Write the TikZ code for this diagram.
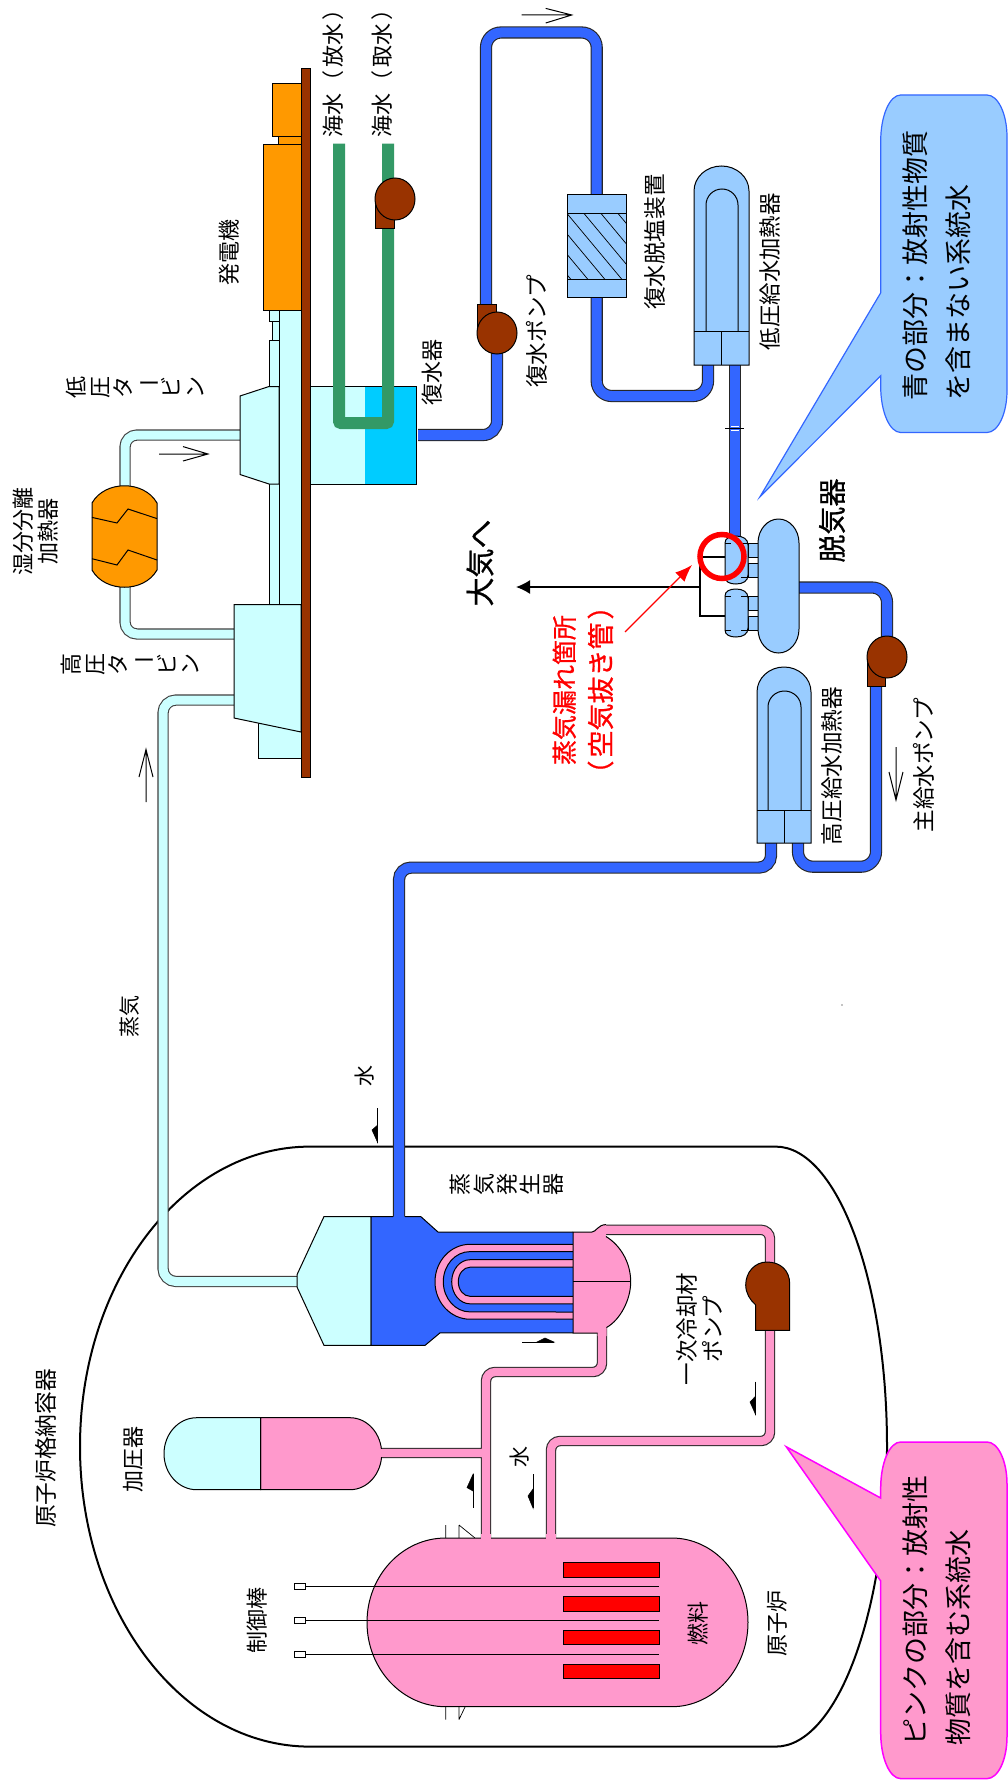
\documentclass[tikz,border=0pt]{standalone}
\usepackage{fontspec}
\usetikzlibrary{arrows.meta}
\setmainfont{Noto Sans CJK JP}
\newfontfamily\medfont[FakeBold=0.8]{Noto Sans CJK JP}
\definecolor{steamc}{HTML}{CCFFFF}
\definecolor{waterc}{HTML}{3366FF}
\definecolor{lightb}{HTML}{99CCFF}
\definecolor{pinkc}{HTML}{FF99CC}
\definecolor{brownc}{HTML}{993300}
\definecolor{orangec}{HTML}{FF9900}
\definecolor{seac}{HTML}{339966}
\definecolor{condc}{HTML}{00CCFF}
\definecolor{calloutm}{HTML}{FF00FF}
\tikzset{
  pipeb/.style={line width=1.1pt,draw=black!85,double=waterc,double distance=10pt},
  pipes/.style={line width=1.1pt,draw=black!75,double=steamc,double distance=9pt},
  pipep/.style={line width=1.1pt,draw=black!85,double=pinkc,double distance=8.2pt},
  part/.style={draw=black,line width=1pt},
  flow/.style={draw=black,line width=1pt},
  solidhead/.style={fill=black,draw=black,line width=0.5pt},
  lab/.style={rotate=90,inner sep=0pt,align=center,font=\fontsize{22}{25}\selectfont},
  big/.style={rotate=90,inner sep=0pt,align=center,font=\medfont\fontsize{29}{32}\selectfont},
  redlab/.style={rotate=90,inner sep=0pt,align=center,text=red,font=\medfont\fontsize{25}{30}\selectfont},
  stack/.style={rotate=90,inner sep=0pt,align=center,font=\fontsize{22}{23.3}\selectfont},
  note/.style={rotate=90,inner sep=0pt,align=left,font=\fontsize{27}{43}\selectfont},
}
\newcommand{\vbar}{\rotatebox[origin=c]{-90}{ー}}
\begin{document}
\begin{tikzpicture}[x=1pt,y=-1pt]
\useasboundingbox (0,0) rectangle (1008,1782);
\fill[white] (0,0) rectangle (1008,1782);
% containment
\draw[line width=2pt] (310,1146.6) arc[start angle=90,end angle=270,x radius=230pt,y radius=300pt] -- (775.7,1746.6) arc[start angle=-90,end angle=90,x radius=111.3pt,y radius=300pt] -- cycle;
% secondary pipes
\draw[pipes,rounded corners=13pt] (234,700) -- (163,700) -- (163,1281.5) -- (300,1281.5);
\draw[pipes,rounded corners=12pt] (240,435) -- (125,435) -- (125,490);
\draw[pipes,rounded corners=12pt] (125,584) -- (125,634) -- (234,634);
\draw[pipeb,rounded corners=14pt] (418,435) -- (497,435) -- (497,350);
\draw[pipeb,rounded corners=15pt] (486,306) -- (486,32.5) -- (596.7,32.5) -- (596.7,196);
\draw[pipeb,rounded corners=15pt] (596.7,295) -- (596.7,396) -- (708,396) -- (708,363);
\draw[pipeb] (735,363) -- (735,538);
\draw[pipeb,rounded corners=15pt] (797,587.5) -- (887,587.5) -- (887,640);
\draw[pipeb,rounded corners=15pt] (876,684) -- (876,866.7) -- (798,866.7) -- (798,841);
\draw[pipeb,rounded corners=12pt] (771,841) -- (771,867.6) -- (399,867.6) -- (399,1218);
\draw[line width=0.7pt] (725,428.6) -- (744,428.6);
\draw[white,line width=1pt] (731,426.4) -- (739,426.4) (731,430.8) -- (739,430.8);
% primary pipes
\draw[pipep,rounded corners=9pt] (486,1540) -- (486,1372) -- (602,1372) -- (602,1325) (380,1453) -- (486,1453);
\draw[pipep,rounded corners=9pt] (551,1540) -- (551,1441) -- (770,1441) -- (770,1328);
\draw[pipep,rounded corners=9pt] (770,1264) -- (770,1229.8) -- (604,1229.8);
% turbine line
\draw[part,fill=steamc] (269,310) rectangle (279,321.5);
\draw[part,fill=steamc] (272,321.5) rectangle (279,340.6);
\draw[part,fill=steamc] (269,340.6) rectangle (279,604.5);
\draw[part,fill=steamc] (258,700) rectangle (301,758.7);
\draw[part,fill=steamc] (279,310) rectangle (301,604.5);
\draw[part,fill=steamc] (240,396) -- (269,386.5) -- (279,386.5) -- (279,484) -- (269,484) -- (240,474.5) -- cycle;
\draw[part,fill=steamc] (234,604.5) -- (301,604.5) -- (301,732) -- (234,718) -- cycle;
\draw[part,fill=orangec] (272,83.4) rectangle (301,137);
\draw[part,fill=orangec] (278,137) rectangle (301,144.7);
\draw[part,fill=orangec] (263,144.7) rectangle (301,310);
\draw[part,fill=brownc] (301,69) rectangle (310,777);
% condenser
\fill[steamc] (310,386.5) rectangle (365,484);
\fill[condc] (365,386.5) rectangle (416,484);
\draw[part] (310,386.5) rectangle (416,484);
\draw[seac,line width=12pt,rounded corners=2pt] (339,143.5) -- (339,423) -- (388,423) -- (388,143.5);
% MSR
\draw[part,fill=orangec] (92,503) .. controls (105,480) and (144,480) .. (157,503) -- (157,570) .. controls (144,593) and (105,593) .. (92,570) -- cycle;
\draw[part] (92,517.4) -- (117,523) -- (128,509) -- (157,518.6);
\draw[part] (92,558.7) -- (117,565) -- (128,550) -- (157,560);
% pumps (circle plus foot)
\draw[part,fill=brownc] (375,199) rectangle (394,228);
\draw[part,fill=brownc] (395,199) ellipse[x radius=20pt,y radius=21pt];
\draw[part,fill=brownc] (477,304) rectangle (496,333);
\draw[part,fill=brownc] (497,333) ellipse[x radius=20pt,y radius=21pt];
\draw[part,fill=brownc] (867,657) rectangle (885,686);
\draw[part,fill=brownc] (887,657) ellipse[x radius=20pt,y radius=21pt];
% demineraliser
\draw[part,fill=lightb] (567,194) rectangle (626,297);
\begin{scope}
\clip (567,213.5) rectangle (626,279.5);
\foreach \k in {-68,-51,...,60} \draw[line width=0.7pt] (567+\k,213.5) -- (567+\k+60,213.5+72);
\end{scope}
\draw[part] (567,213.5) rectangle (626,279.5);
% LP heater
\draw[part,fill=lightb] (694,365) -- (694,191) arc[start angle=180,end angle=0,x radius=27.5pt,y radius=25pt] -- (749,365) -- cycle;
\draw[part] (706,331.4) -- (706,205) arc[start angle=180,end angle=0,x radius=16pt,y radius=16pt] -- (738,331.4);
\draw[part] (694,331.4) -- (749,331.4) (721,331.4) -- (721,365);
% HP heater
\draw[part,fill=lightb] (757,843) -- (757,692) arc[start angle=180,end angle=0,x radius=27pt,y radius=25pt] -- (811,843) -- cycle;
\draw[part] (768,810) -- (768,707) arc[start angle=180,end angle=0,x radius=16.5pt,y radius=16pt] -- (801,707) -- (801,810);
\draw[part] (757,810) -- (811,810) (784,810) -- (784,843);
% deaerator
\draw[line width=1.6pt] (725,557) -- (700,557) -- (700,616) -- (725,616);
\foreach \d in {0,53}{
\begin{scope}[shift={(0,\d)}]
\draw[part,fill=lightb] (748,543) rectangle (758,557);
\draw[part,fill=lightb] (748,563) rectangle (758,577);
\draw[part,fill=lightb] (725,543) .. controls (725,538) and (730,536) .. (736,536) .. controls (743,536) and (748,539) .. (748,545) -- (748,575) .. controls (748,581) and (743,584) .. (736,584) .. controls (730,584) and (725,582) .. (725,577) -- cycle;
\draw[part] (725,543) -- (731,543) (741,543) -- (748,543) (725,577) -- (731,577) (741,577) -- (748,577);
\end{scope}}
\draw[part,fill=lightb] (758,543) arc[start angle=180,end angle=0,x radius=20.5pt,y radius=24pt] -- (799,629) arc[start angle=0,end angle=-180,x radius=20.5pt,y radius=24pt] -- cycle;
\draw[line width=1.6pt,-{Latex[length=14pt,width=14pt]}] (700,587) -- (516,587);
\draw[red,line width=5.5pt] (722,556.5) circle (22pt);
\draw[red,line width=1.2pt,-{Latex[length=17pt,width=13pt]}] (625,632) -- (692,565);
% steam generator
\draw[part,fill=steamc] (297,1274.7) -- (324,1216.5) -- (371,1216.5) -- (371,1345.4) -- (324,1345.4) -- (297,1287) -- cycle;
\fill[waterc] (371,1216.5) -- (420.7,1216.5) -- (438,1232) -- (573,1232) -- (573,1332.9) -- (440,1332.9) -- (425,1345.4) -- (371,1345.4) -- cycle;
\draw[part] (393,1216.5) -- (371,1216.5) -- (371,1345.4) -- (425,1345.4) -- (440,1332.9) -- (573,1332.9) (405,1216.5) -- (420.7,1216.5) -- (438,1232) -- (573,1232);
\draw[part,fill=pinkc] (573,1244.3) -- (470,1244.3) arc[start angle=90,end angle=270,x radius=35pt,y radius=37.45pt] -- (573,1319.2);
\draw[part,fill=waterc] (573,1251.6) -- (470,1251.6) arc[start angle=90,end angle=270,x radius=26.7pt,y radius=30.15pt] -- (573,1312);
\draw[part,fill=pinkc] (573,1259.7) -- (470,1259.7) arc[start angle=90,end angle=270,x radius=18.3pt,y radius=22.05pt] -- (573,1303.8);
\draw[part,fill=waterc] (573,1267.2) -- (470,1267.2) arc[start angle=90,end angle=270,x radius=11.7pt,y radius=14.55pt] -- (573,1296.3);
% steam generator head: filled first, outlined without the pipe mouths
\fill[pinkc] (573,1232) -- (592,1232) .. controls (596,1232) and (598,1224.6) .. (606,1224.6) -- (606,1236.5) .. controls (620,1245) and (630.7,1262) .. (630.7,1281.8) .. controls (630.7,1300) and (620,1320) .. (606.5,1327.5) -- (606.5,1336) -- (597.5,1336) -- (597.5,1333) -- (573,1333) -- cycle;
\draw[part] (606,1236.5) .. controls (620,1245) and (630.7,1262) .. (630.7,1281.8) .. controls (630.7,1300) and (620,1320) .. (606.5,1327.5);
\draw[part] (606,1224.6) .. controls (598,1224.6) and (596,1232) .. (592,1232) -- (573,1232) -- (573,1333) -- (597.5,1333);
\draw[part] (573,1281.8) -- (630.7,1281.8);
% RCP
\draw[part,fill=brownc] (755.7,1330.4) -- (789.7,1330.4) -- (789.7,1284) .. controls (789.7,1270) and (780,1262) .. (767,1262) .. controls (755,1262) and (745.7,1272) .. (745.7,1285) .. controls (745.7,1293) and (750,1300) .. (755.7,1305) -- cycle;
% pressuriser
\draw[part,fill=pinkc] (260.7,1417.7) -- (350,1417.7) arc[start angle=90,end angle=-90,x radius=31.7pt,y radius=36pt] -- (260.7,1489.7) -- cycle;
\draw[part,fill=steamc] (260.7,1417.7) -- (196.7,1417.7) arc[start angle=90,end angle=270,x radius=32.7pt,y radius=36pt] -- (260.7,1489.7) -- cycle;
\fill[pinkc] (378,1449) rectangle (384,1457);
% cut marks at reactor
\draw[line width=0.7pt] (445.7,1525) -- (445.7,1538) (459,1525) -- (459,1538) (459,1525) -- (475,1538);
\draw[line width=0.7pt] (445.7,1707) -- (445.7,1719.6) (459,1707) -- (459,1719.6) (459,1719.6) -- (465,1707);
% reactor
\draw[part,fill=pinkc] (445.7,1538) arc[start angle=90,end angle=270,x radius=78.7pt,y radius=84.35pt] -- (671.7,1706.7) arc[start angle=-90,end angle=90,x radius=76.3pt,y radius=84.35pt] -- cycle;
\fill[pinkc] (481,1534) rectangle (491,1541);
\fill[pinkc] (546,1534) rectangle (556,1541);
\foreach \a/\b in {1562.4/1577,1596.5/1611,1630.6/1644.8,1664.3/1678.9}
  \draw[part,fill=red] (563.3,\a) rectangle (659,\b);
\foreach \r in {1586,1620.6,1654.7}{
  \draw[part] (305.7,\r) -- (659,\r);
  \draw[line width=0.8pt,fill=white] (294,\r-3) rectangle (305.7,\r+3);
}
% open flow arrows
\draw[flow] (159,454) -- (208,454) (183,446.6) -- (208,454) -- (183,461);
\draw[flow] (521.7,15) -- (571.7,15) (545.7,8.4) -- (571.7,15) -- (545.7,23);
\draw[flow] (146,802) -- (146,749.5) (139,777) -- (146,749.5) -- (153,777);
\draw[flow] (896,747) -- (896,800) (889,772) -- (896,800) -- (903,772);
% half arrows
\draw[flow] (377.7,1108) -- (377.7,1142.6);
\draw[solidhead] (377.7,1142.6) -- (372,1130) -- (377.7,1125) -- cycle;
\draw[flow] (473,1474.3) -- (473,1508.4);
\draw[solidhead] (473,1474.3) -- (467,1487.6) -- (473,1491) -- cycle;
\draw[flow] (522,1342) -- (554,1342);
\draw[solidhead] (554,1342) -- (545,1338) -- (537,1342) -- cycle;
\draw[flow] (755.7,1381.6) -- (755.7,1414.8);
\draw[solidhead] (755.7,1414.8) -- (750,1402) -- (755.7,1396) -- cycle;
\draw[flow] (533,1474) -- (533,1508);
\draw[solidhead] (533,1508) -- (528,1496) -- (533,1489) -- cycle;
% callouts
\draw[line width=1.2pt,draw=waterc,fill=lightb] (900.7,95) -- (987,95) arc[start angle=90,end angle=0,x radius=20pt,y radius=42pt] -- (1007,390.5) arc[start angle=0,end angle=-90,x radius=20pt,y radius=42pt] -- (900.7,432.5) arc[start angle=-90,end angle=-180,x radius=20pt,y radius=46pt] -- (880.7,375.8) -- (760,496.7) -- (880.7,292.8) -- (880.7,141) arc[start angle=180,end angle=90,x radius=20pt,y radius=46pt] -- cycle;
\draw[line width=1.5pt,draw=calloutm,fill=pinkc] (900.7,1442) -- (987,1442) arc[start angle=90,end angle=0,x radius=20pt,y radius=42pt] -- (1007,1736.6) arc[start angle=0,end angle=-90,x radius=20pt,y radius=42pt] -- (900.7,1778.6) arc[start angle=-90,end angle=-180,x radius=20pt,y radius=46pt] -- (880.7,1581) -- (786.3,1446.8) -- (880.7,1498) -- (880.7,1488) arc[start angle=180,end angle=90,x radius=20pt,y radius=46pt] -- cycle;
\fill (842,1005) circle (0.7pt);
% labels
\node[lab] (t1) at (333,68) {海水\hspace{1pt}（\kern3pt 放水\kern3pt ）};
\node[lab] (t2) at (382,68) {海水\hspace{1pt}（\kern3pt 取水\kern3pt ）};
\node[lab] (t3) at (229,252.6) {発電機};
\node[stack] (t4) at (135,387) {低\\圧\\タ\\\vbar\\ビ\\ン};
\node[stack] (t5) at (130,664) {高\\圧\\タ\\\vbar\\ビ\\ン};
\node[lab] (t6) at (36,531) {湿分分離\\加熱器};
\node[lab] (t7) at (432,372) {復水器};
\node[lab,font=\fontsize{22.6}{25}\selectfont] (t8) at (537,331.5) {復水ポンプ};
\node[lab,font=\fontsize{22.6}{25}\selectfont] (t9) at (654.7,242) {復水脱塩装置};
\node[lab,font=\fontsize{22.4}{25}\selectfont] (t10) at (770,271.7) {低圧給水加熱器};
\node[big,font=\medfont\fontsize{28}{32}\selectfont] (t11) at (832,520.5) {脱気器};
\node[big] (t12) at (480,563) {大気へ};
\node[redlab] (t13) at (583,690) {蒸気漏れ箇所\\[7pt]{\fontsize{27}{30}\selectfont（\kern3pt 空気抜き管\kern3pt ）}};
\node[lab,font=\fontsize{22.6}{25}\selectfont] (t14) at (832,766) {高圧給水加熱器};
\node[lab,font=\fontsize{22.6}{25}\selectfont] (t15) at (924,765) {主給水ポンプ};
\node[lab,font=\fontsize{21}{25}\selectfont] (t16) at (130,1016.5) {蒸気};
\node[lab,font=\fontsize{21}{25}\selectfont] (t17) at (365,1076) {水};
\node[stack] (t18) at (507,1184) {蒸\\気\\発\\生\\器};
\node[lab,font=\fontsize{22.7}{25}\selectfont] (t19) at (46,1448.5) {原子炉格納容器};
\node[lab] (t20) at (133,1459) {加圧器};
\node[lab] (t21) at (257,1620) {制御棒};
\node[lab] (t22) at (698,1623) {燃料};
\node[lab] (t23) at (777,1623.7) {原子炉};
\node[lab,font=\fontsize{22.5}{26}\selectfont] (t24) at (700,1329) {一次冷却材\\ポンプ};
\node[lab,font=\fontsize{21}{25}\selectfont] (t25) at (520,1456.5) {水};
\node[note] (t26) at (937,265) {青の部分：放射性物質\\を含まない系統水};
\node[note] (t27) at (937,1610) {ピンクの部分：放射性\\物質を含む系統水};
\end{tikzpicture}
\end{document}
